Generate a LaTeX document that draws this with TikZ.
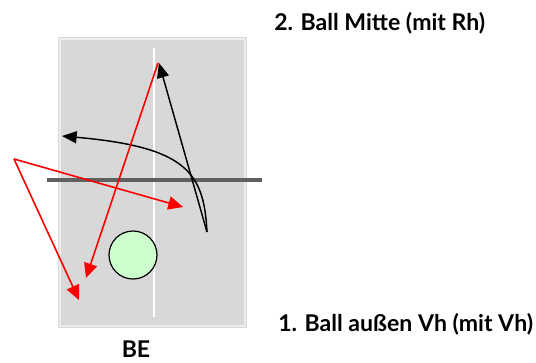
\documentclass[tikz,border=0pt]{standalone}
\usepackage{fontspec}
\setmainfont{Lato}
\usetikzlibrary{arrows.meta}
\definecolor{tablegray}{HTML}{D8D8D8}
\definecolor{tableedge}{HTML}{EDEDED}
\definecolor{netgray}{HTML}{606060}
\definecolor{ballgreen}{HTML}{CCFFCC}
\tikzset{
  redpath/.style={draw=red, line width=1.2pt, -{Triangle[length=11pt,width=10pt]}},
  blackpath/.style={draw=black, line width=1.1pt, -{Triangle[length=11pt,width=9pt]}},
  label/.style={font=\bfseries\fontsize{17.3}{20}\selectfont, inner sep=0pt}
}
\begin{document}
\begin{tikzpicture}[x=0.75pt,y=-0.75pt]
\useasboundingbox (0,0) rectangle (536,362);
% table
\node (table) [draw=none, fill=tablegray, minimum width=189*0.75pt, minimum height=291*0.75pt, inner sep=0pt, anchor=north west] at (58,37) {};
\draw[tableedge, line width=1.2pt] (60,39) rectangle (245,326);
% center line
\coordinate (ctop) at (154,48);
\coordinate (cbot) at (154,317);
\draw[white, line width=1.2pt] (ctop) -- (cbot);
% net
\coordinate (netL) at (47,180);
\coordinate (netR) at (262,180);
\draw[netgray, line width=2.4pt] (netL) -- (netR);
% ball
\node (ball) [circle, draw=black, fill=ballgreen, line width=0.9pt, minimum size=48*0.75pt, inner sep=0pt] at (133,255) {};
% points
\coordinate (rA) at (14,159);
\coordinate (rB) at (183,207);
\coordinate (rC) at (79,300);
\coordinate (rD) at (158,63);
\coordinate (rE) at (86,278);
\coordinate (bS) at (207,232);
\coordinate (bT) at (159,63);
\coordinate (bC) at (62,136);
% black paths
\draw[blackpath] (bS) -- (bT);
\draw[blackpath] (bS) .. controls (204,172) and (186,147) .. (bC);
% red paths
\draw[redpath] (rA) -- (rB);
\draw[redpath] (rA) -- (rC);
\draw[redpath] (rD) -- (rE);
% labels
\node (l2) [label, anchor=west] at (274,23) {2. Ball Mitte (mit Rh)};
\node (l1) [label, anchor=west] at (278,324) {1. Ball außen Vh (mit Vh)};
\node (be) [label, anchor=center] at (136,349) {BE};
\end{tikzpicture}
\end{document}
